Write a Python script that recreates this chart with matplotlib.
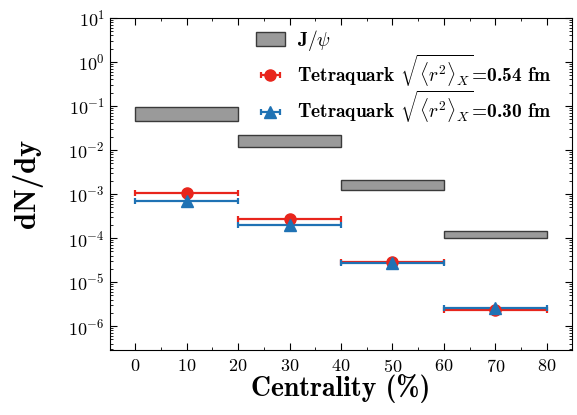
import numpy as np
import matplotlib.pyplot as plt
from matplotlib.patches import Patch
from matplotlib.font_manager import FontProperties

plt.rcParams['font.family'] = 'serif'
plt.rcParams['font.serif'] = ['cmr10']
plt.rcParams['mathtext.fontset'] = 'cm'
plt.rcParams['axes.formatter.use_mathtext'] = True

# J/psi bands (centrality bins)
bin_lo = np.array([0, 20, 40, 60])
bin_hi = np.array([20, 40, 60, 80])
jpsi_lo = np.array([4.5e-2, 1.17e-2, 1.26e-3, 9.8e-5])
jpsi_hi = np.array([9.3e-2, 2.2e-2, 2.1e-3, 1.48e-4])

# Tetraquark yields
cent = np.array([10, 30, 50, 70])
tq_054 = np.array([1.05e-3, 2.75e-4, 2.9e-5, 2.35e-6])
tq_030 = np.array([7.0e-4, 2.0e-4, 2.7e-5, 2.6e-6])

red = '#e8251c'
blue = '#1f72b4'

fig, ax = plt.subplots(figsize=(5.77, 4.15), dpi=100)
fig.subplots_adjust(left=0.19, right=0.992, top=0.957, bottom=0.157)

centers = (bin_lo + bin_hi) / 2
ax.bar(centers, jpsi_hi - jpsi_lo, bottom=jpsi_lo, width=bin_hi - bin_lo,
       color='#9a9a9a', edgecolor='#3a3a3a', linewidth=1.0)

half = (bin_hi - bin_lo) / 2
e1 = ax.errorbar(cent, tq_054, xerr=half, fmt='o', color=red, ms=8,
                 capsize=2.5, elinewidth=1.6, capthick=1.6)
e2 = ax.errorbar(cent, tq_030, xerr=half, fmt='^', color=blue, ms=8,
                 capsize=2.5, elinewidth=1.6, capthick=1.6)

ax.set_yscale('log')
ax.set_xlim(-5, 85)
ax.set_ylim(2.9e-7, 10)
ax.set_xticks(np.arange(0, 81, 10))
ax.set_xticks(np.arange(-5, 86, 5), minor=True)
ax.tick_params(which='both', direction='in', top=True, right=True, labelsize=13)
ax.tick_params(which='major', length=5)
ax.tick_params(which='minor', length=2.5)
ax.tick_params(axis='x', pad=6)

ax.set_ylabel('dN/dy', fontproperties=FontProperties(family='cmb10', size=22), labelpad=18)
ax.set_xlabel('Centrality (%)', fontproperties=FontProperties(family='cmb10', size=20), labelpad=-1)

jp = Patch(facecolor='#9a9a9a', edgecolor='#3a3a3a')
labels = [r'J$/\psi$',
          r'Tetraquark $\sqrt{\langle r^2\rangle_X}$=0.54 fm',
          r'Tetraquark $\sqrt{\langle r^2\rangle_X}$=0.30 fm']
ax.legend([jp, e1, e2], labels, loc='upper left', bbox_to_anchor=(0.295, 1.0),
          frameon=False, prop=FontProperties(family='cmb10', size=14),
          borderaxespad=0.1, handlelength=1.5, handletextpad=0.6, labelspacing=0.0)

fig.savefig('out.png', dpi=100)
